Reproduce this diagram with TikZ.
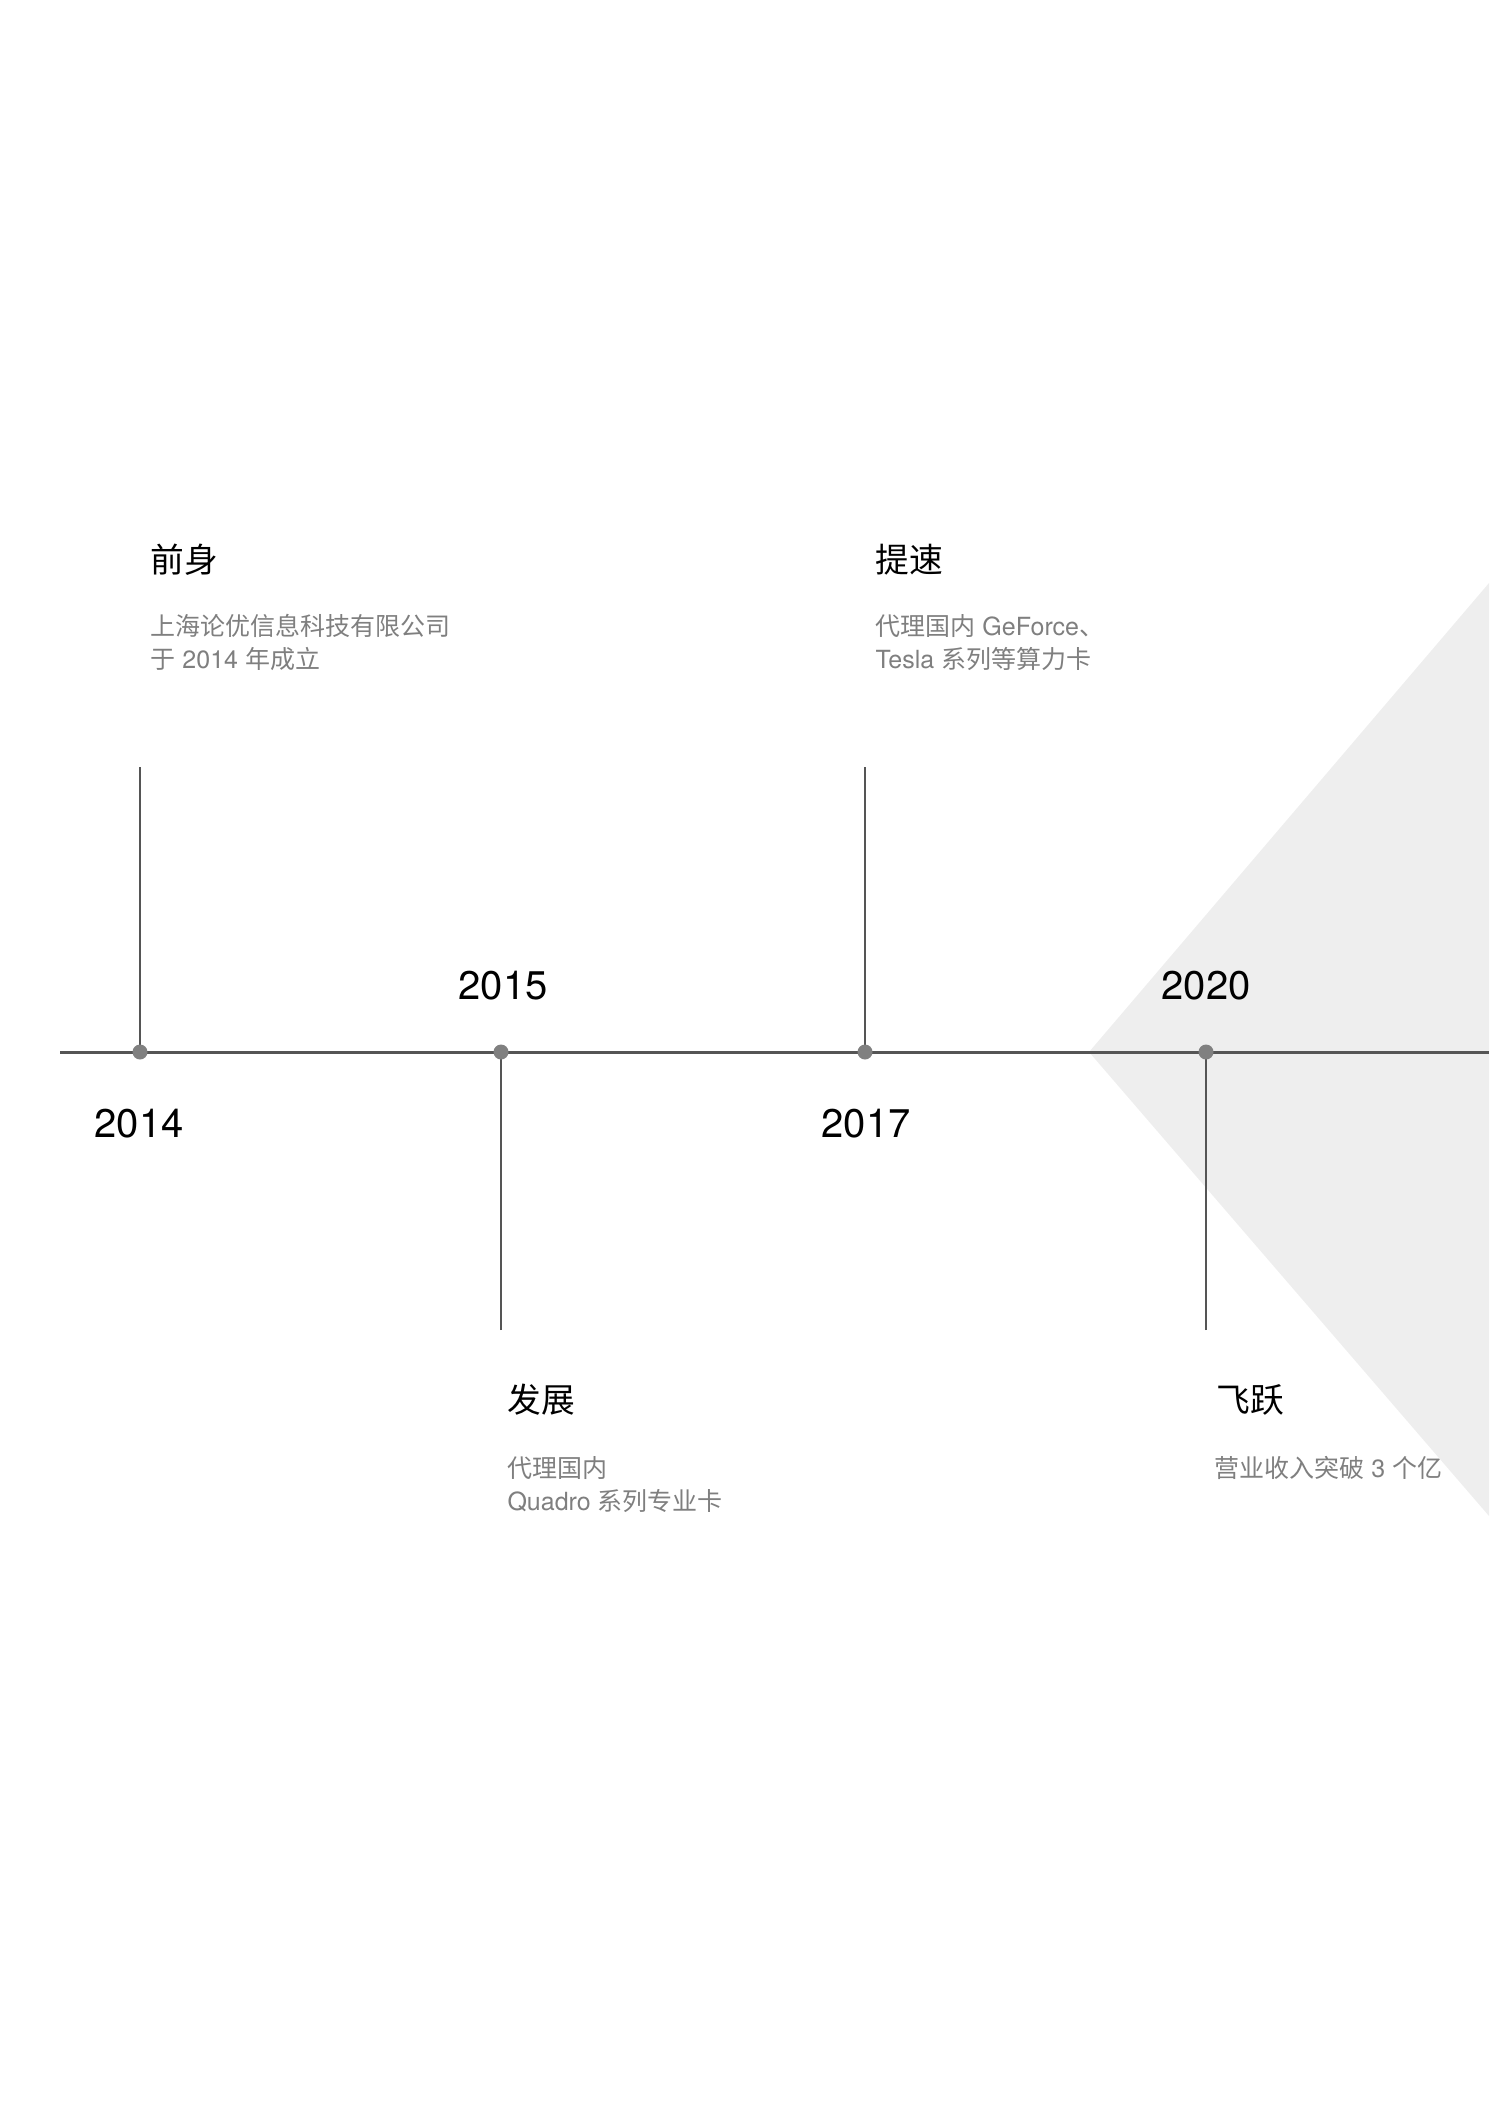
\documentclass[tikz,border=0pt]{standalone}
\usepackage{fontspec}
\setmainfont{TeX Gyre Heros}
\newfontfamily\cjk{Noto Sans CJK SC}
\definecolor{axisgray}{HTML}{555555}
\definecolor{dotgray}{HTML}{808080}
\definecolor{descgray}{HTML}{7F7F7F}
\definecolor{trifill}{HTML}{EEEEEE}
\tikzset{
  axisline/.style={draw=axisgray, line width=1.2pt},
  stemline/.style={draw=axisgray, line width=0.95pt},
  tdot/.style={circle, fill=dotgray, inner sep=0pt, minimum size=6pt},
  yearlbl/.style={anchor=base, inner sep=0pt, font=\fontsize{16}{19}\selectfont, text=black},
  titlelbl/.style={anchor=base west, inner sep=0pt, font=\cjk\fontsize{13.5}{16}\selectfont, text=black},
  desclbl/.style={anchor=base west, inner sep=0pt, font=\fontsize{10}{13}\selectfont, text=descgray},
}
\begin{document}
\begin{tikzpicture}[x=0.4pt,y=-0.4pt]
\useasboundingbox (0,0) rectangle (1489,2105);
% background triangle
\fill[trifill] (1089,1052) -- (1489,583) -- (1489,1516) -- cycle;
% axis
\coordinate (axL) at (60,1052);
\coordinate (axR) at (1489,1052);
\draw[axisline] (axL) -- (axR);
% stems
\coordinate (t2014) at (140,767);
\coordinate (t2015) at (501,1330);
\coordinate (t2017) at (865,767);
\coordinate (t2020) at (1206,1330);
\coordinate (a2014) at (140,1052);
\coordinate (a2015) at (501,1052);
\coordinate (a2017) at (865,1052);
\coordinate (a2020) at (1206,1052);
\draw[stemline] (t2014) -- (a2014);
\draw[stemline] (t2015) -- (a2015);
\draw[stemline] (t2017) -- (a2017);
\draw[stemline] (t2020) -- (a2020);
% dots
\node[tdot] (d2014) at (a2014) {};
\node[tdot] (d2015) at (a2015) {};
\node[tdot] (d2017) at (a2017) {};
\node[tdot] (d2020) at (a2020) {};
% years
\node[yearlbl] (y2014) at (139,1137) {2014};
\node[yearlbl] (y2015) at (503,999) {2015};
\node[yearlbl] (y2017) at (866,1137) {2017};
\node[yearlbl] (y2020) at (1206,999) {2020};
% titles
\node[titlelbl] (h2014) at (150,572) {前身};
\node[titlelbl] (h2017) at (875,572) {提速};
\node[titlelbl] (h2015) at (507,1412) {发展};
\node[titlelbl] (h2020) at (1216,1412) {飞跃};
% descriptions
\node[desclbl] (p2014a) at (150,635) {{\cjk 上海论优信息科技有限公司}};
\node[desclbl] (p2014b) at (150,668) {{\cjk 于} 2014 {\cjk 年成立}};
\node[desclbl] (p2017a) at (875,635) {{\cjk 代理国内} GeForce{\cjk 、}};
\node[desclbl] (p2017b) at (875,668) {Tesla {\cjk 系列等算力卡}};
\node[desclbl] (p2015a) at (507,1477) {{\cjk 代理国内}};
\node[desclbl] (p2015b) at (507,1510) {Quadro {\cjk 系列专业卡}};
\node[desclbl] (p2020a) at (1214,1477) {{\cjk 营业收入突破} 3 {\cjk 个亿}};
\end{tikzpicture}
\end{document}
